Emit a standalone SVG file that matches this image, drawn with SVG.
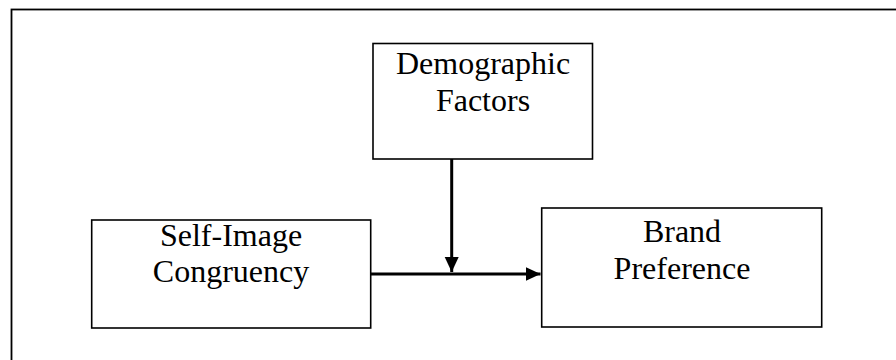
<svg xmlns="http://www.w3.org/2000/svg" width="896" height="360" viewBox="0 0 896 360">
<style>
.box{fill:#fff;stroke:#000;stroke-width:1.6}
.t{font-family:"Liberation Serif",serif;font-size:32px;fill:#000;text-anchor:middle}
.c{stroke:#000;stroke-width:3;fill:none}
</style>
<defs>
<marker id="ah" markerUnits="userSpaceOnUse" markerWidth="16" markerHeight="16" refX="15" refY="7" orient="auto">
<path d="M0,0 L15,7 L0,14 Z" fill="#000"/>
</marker>
</defs>
<rect x="0" y="0" width="896" height="360" fill="#fff"/>
<rect x="11.5" y="9.5" width="900" height="360" fill="none" stroke="#000" stroke-width="1.8"/>
<g id="demographic">
<rect class="box" x="373" y="43.5" width="219.5" height="115.5"/>
<text class="t" x="483" y="74">Demographic</text>
<text class="t" x="483" y="111">Factors</text>
</g>
<g id="selfimage">
<rect class="box" x="91.7" y="220" width="279" height="108"/>
<text class="t" x="231" y="246">Self-Image</text>
<text class="t" x="231" y="282">Congruency</text>
</g>
<g id="brand">
<rect class="box" x="541.7" y="208" width="280" height="119"/>
<text class="t" x="682" y="242">Brand</text>
<text class="t" x="682" y="279">Preference</text>
</g>
<g id="connectors">
<line class="c" x1="451.7" y1="159" x2="451.7" y2="272" marker-end="url(#ah)"/>
<line class="c" x1="370.7" y1="274" x2="540.5" y2="274" marker-end="url(#ah)"/>
</g>
</svg>
